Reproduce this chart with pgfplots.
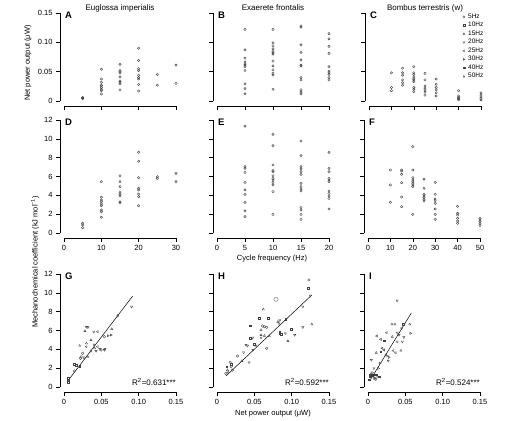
\documentclass[border=0pt]{standalone}
\usepackage{fontspec}
\setmainfont{Liberation Sans}
\usepackage{pgfplots}
\pgfplotsset{compat=1.18}
\definecolor{mk}{gray}{0.25}
\pgfplotsset{
 panel/.style={scale only axis, width=112pt, axis lines=left,
   axis line style={-, line width=0.55pt, black},
   tick align=outside, major tick length=4pt, tick style={black, line width=0.55pt},
   axis x line shift=5pt, axis y line shift=4pt,
   tick label style={font=\fontsize{7.5}{8}\selectfont, black},
   clip=false, scaled ticks=false},
 r1/.style={panel, height=88pt, ymin=0, ymax=0.15, ytick={0,0.05,0.1,0.15}, xticklabels={,,}},
 r2/.style={panel, height=113pt, ymin=0, ymax=12, ytick={0,2,...,12}},
 r3/.style={panel, height=113pt, ymin=0, ymax=12, ytick={0,2,...,12}, xmin=0, xmax=0.15,
   xtick={0,0.05,0.1,0.15}, xticklabels={0,0.05,0.10,0.15}},
 noy/.style={yticklabels={,,}},
 yl12/.style={yticklabels={0,2,4,6,8,10,12}},
 pt/.style={only marks, mark=o, mark size=1.2pt, mark options={mk, line width=0.4pt}},
 mb/.style={only marks, mark size=1.3pt, mark options={mk, line width=0.35pt}},
 m5/.style={mb, mark=o},
 m10/.style={mb, mark=square, mark size=0.95pt},
 m15/.style={mb, mark=triangle},
 m20/.style={mb, mark=triangle, mark options={mk, line width=0.35pt, rotate=180}},
 m25/.style={mb, mark=triangle, mark options={mk, line width=0.35pt, rotate=90}},
 m30/.style={mb, mark=triangle, mark options={mk, line width=0.35pt, rotate=-90}},
 m40/.style={mb, mark=square, mark size=0.95pt, mark options={mk, line width=0.35pt, yscale=0.45, xscale=1.3}},
 m50/.style={mb, mark=diamond},
 fit/.style={black, line width=0.5pt, no marks},
 leglook/.style={
  legend style={at={(rel axis cs:0.835,1.0)}, anchor=north west, draw=none, fill=none, inner sep=0pt,
    row sep=1.3pt, column sep=2.5pt, font=\fontsize{6.5}{7}\selectfont, nodes={inner sep=0.6pt}},
  legend cell align=left},
}
\newcommand{\plet}[1]{\node[anchor=north west, inner sep=0pt, font=\bfseries\fontsize{9.5}{10}\selectfont, xshift=1pt, yshift=1.5pt] at (rel axis cs:0,1) {#1};}
\newcommand{\ptitle}[1]{\node[anchor=base, inner sep=0pt, font=\fontsize{8}{9}\selectfont, yshift=2.5pt] at (rel axis cs:0.5,1) {#1};}
\newcommand{\rsq}[1]{\node[anchor=base east, inner sep=0pt, font=\fontsize{8}{9}\selectfont, yshift=1.5pt] at (rel axis cs:1,0) {R\textsuperscript{2}=#1***};}
\begin{document}
\begin{tikzpicture}
\useasboundingbox (0,0) rectangle (513pt,420pt);
% ---------------- Row 1 ----------------
\begin{axis}[r1, at={(64pt,319pt)}, anchor=south west, xmin=0, xmax=30, xtick={0,10,20,30},
  yticklabels={0,0.05,0.10,0.15}]
\addplot[pt] table {
x y
5 0.004
5 0.005
5 0.006
10 0.054
10 0.0375
10 0.032
10 0.027
10 0.026
10 0.023
10 0.020
10 0.0175
10 0.012
15 0.0626
15 0.052
15 0.050
15 0.048
15 0.041
15 0.034
15 0.032
15 0.029
15 0.019
20 0.090
20 0.069
20 0.055
20 0.052
20 0.044
20 0.040
20 0.0375
20 0.028
20 0.017
25 0.045
25 0.027
30 0.061
30 0.030
};
\plet{A}\ptitle{Euglossa imperialis}
\end{axis}
\begin{axis}[r1, at={(217pt,319pt)}, anchor=south west, xmin=0, xmax=20, xtick={0,5,...,20}, noy]
\addplot[pt] table {
x y
5 0.122
5 0.087
5 0.073
5 0.0665
5 0.063
5 0.061
5 0.0585
5 0.052
5 0.029
5 0.021
5 0.012
10 0.122
10 0.099
10 0.094
10 0.089
10 0.084
10 0.082
10 0.080
10 0.068
10 0.060
10 0.053
10 0.047
10 0.044
10 0.020
15 0.128
15 0.126
15 0.0955
15 0.083
15 0.070
15 0.061
15 0.060
15 0.040
15 0.036
15 0.019
15 0.015
15 0.012
20 0.115
20 0.106
20 0.093
20 0.081
20 0.0585
20 0.051
20 0.048
20 0.0455
20 0.040
20 0.036
};
\plet{B}\ptitle{Exaerete frontalis}
\end{axis}
\begin{axis}[r1, at={(369pt,319pt)}, anchor=south west, xmin=0, xmax=50, xtick={0,10,...,50}, noy, leglook]
\addplot[pt, forget plot] table {
x y
10 0.048
10 0.023
10 0.0175
15 0.056
15 0.048
15 0.044
15 0.036
15 0.031
15 0.027
20 0.0585
20 0.048
20 0.045
20 0.041
20 0.038
20 0.036
20 0.033
20 0.023
20 0.020
20 0.016
25 0.047
25 0.036
25 0.0256
25 0.022
25 0.019
25 0.015
25 0.010
30 0.0375
30 0.0285
30 0.023
30 0.019
30 0.014
30 0.0085
40 0.0175
40 0.0085
40 0.006
40 0.004
40 0.002
50 0.014
50 0.010
50 0.007
50 0.0045
50 0.002
};
\addlegendimage{m5, mark size=1.1pt}\addlegendentry{5Hz}
\addlegendimage{m10, mark size=0.9pt}\addlegendentry{10Hz}
\addlegendimage{m15, mark size=1.1pt}\addlegendentry{15Hz}
\addlegendimage{m20, mark size=1.1pt}\addlegendentry{20Hz}
\addlegendimage{m25, mark size=1.1pt}\addlegendentry{25Hz}
\addlegendimage{m30, mark size=1.1pt}\addlegendentry{30Hz}
\addlegendimage{m40, mark size=0.9pt}\addlegendentry{40Hz}
\addlegendimage{m50, mark size=1.1pt}\addlegendentry{50Hz}
\plet{C}\ptitle{Bombus terrestris (w)}
\end{axis}
% ---------------- Row 2 ----------------
\begin{axis}[r2, at={(64pt,187pt)}, anchor=south west, xmin=0, xmax=30, xtick={0,10,20,30},
  xticklabels={0,10,20,30}, yl12]
\addplot[pt] table {
x y
5 1.03
5 0.85
5 0.56
10 5.45
10 3.79
10 3.5
10 3.32
10 3.08
10 2.9
10 2.44
10 2.26
10 1.67
15 6.08
15 5.45
15 4.92
15 4.32
15 4.11
15 3.93
15 3.32
15 3.22
20 8.57
20 7.61
20 5.87
20 4.75
20 4.57
20 4.14
20 3.86
20 2.9
25 5.98
25 5.8
30 6.34
30 5.45
};
\plet{D}
\end{axis}
\begin{axis}[r2, at={(217pt,187pt)}, anchor=south west, xmin=0, xmax=20, xtick={0,5,...,20},
  xticklabels={0,5,10,15,20}, noy]
\addplot[pt] table {
x y
5 11.36
5 7.04
5 6.87
5 6.44
5 5.38
5 4.57
5 4.11
5 3.26
5 2.34
5 1.73
10 10.48
10 9.27
10 7.22
10 6.62
10 6.51
10 6.08
10 5.8
10 5.63
10 5.38
10 5.10
10 4.39
10 1.98
15 9.77
15 8.21
15 7.04
15 6.8
15 6.51
15 6.23
15 5.28
15 4.92
15 4.67
15 4.46
15 2.69
15 2.44
15 1.98
15 1.45
20 8.57
20 6.87
20 6.51
20 5.8
20 5.63
20 5.45
20 4.46
20 4.21
20 3.93
20 3.68
20 2.55
};
\plet{E}
\end{axis}
\begin{axis}[r2, at={(368pt,187pt)}, anchor=south west, xmin=0, xmax=50, xtick={0,10,...,50},
  xticklabels={0,10,20,30,40,50}, noy]
\addplot[pt] table {
x y
10 6.69
10 5.1
10 3.26
15 6.69
15 6.58
15 6.23
15 5.34
15 3.82
15 2.79
20 9.17
20 6.69
20 5.87
20 5.63
20 5.45
20 5.28
20 5.10
20 4.92
20 1.98
25 5.73
25 4.75
25 4.11
25 3.93
25 3.75
25 3.58
25 3.40
30 5.38
30 4.11
30 3.61
30 3.43
30 3.15
30 2.55
30 1.98
30 1.45
40 2.83
40 2.09
40 1.91
40 1.56
40 1.27
40 1.03
50 1.56
50 1.38
50 1.2
50 0.99
50 0.78
};
\plet{F}
\end{axis}
% ---------------- Row 3 ----------------
\begin{axis}[r3, at={(64pt,33pt)}, anchor=south west, yl12]
\addplot[fit] coordinates {(0.004,0.53) (0.092,9.66)};
\addplot[m5] coordinates {(0.014,1.7) (0.022,3.05) (0.025,3.58) (0.023,3.2) (0.027,3.1) (0.054,5.34)};
\addplot[m10] coordinates {(0.005,0.74) (0.005,0.55) (0.014,2.44) (0.021,2.23) (0.016,2.34) (0.005,0.9)};
\addplot[m15] coordinates {(0.021,4.39) (0.028,5.95) (0.036,4.99) (0.064,6.16) (0.030,4.64) (0.041,4.11) (0.032,3.2)};
\addplot[m20] coordinates {(0.030,6.37) (0.040,5.87) (0.054,3.93) (0.055,4.03) (0.0905,8.53) (0.032,6.34) (0.043,3.82) (0.048,4.03)};
\addplot[m25] coordinates {(0.045,5.87) (0.030,4.28) (0.045,4.28)};
\addplot[m30] coordinates {(0.059,5.45) (0.063,5.52)};
\addplot[m50] coordinates {(0.072,7.57) (0.050,3.93) (0.040,4.46) (0.036,3.82)};
\plet{G}\rsq{0.631}
\end{axis}
\begin{axis}[r3, at={(217pt,33pt)}, anchor=south west, noy]
\addplot[fit] coordinates {(0.012,1.17) (0.127,9.77)};
\addplot[m5] coordinates {(0.123,11.36) (0.061,6.48) (0.0635,6.4) (0.0666,6.34) (0.0666,4.11) (0.0275,3.29) (0.0207,1.8) (0.0176,2.62) (0.019,2.16) (0.0118,1.45)};
\addplot[m5, mark size=2.1pt, mark options={gray, line width=0.5pt}] coordinates {(0.079,9.31)};
\addplot[m10] coordinates {(0.122,10.48) (0.057,7.3) (0.068,7.3) (0.0446,6.51) (0.092,7.22) (0.0996,6.16) (0.0446,5.17) (0.084,5.7) (0.086,5.6) (0.084,5.87) (0.0185,2.41) (0.013,2.16) (0.05,4.57)};
\addplot[m15] coordinates {(0.062,8.25) (0.127,6.66) (0.095,4.89) (0.059,5.52) (0.0635,5.45) (0.052,4.39) (0.0334,2.76) (0.014,1.8) (0.0149,1.56) (0.059,6.05) (0.07,5.41) (0.0815,6.93)};
\addplot[m20] coordinates {(0.125,9.7) (0.115,8.53) (0.0915,5.7) (0.115,6.34) (0.104,5.52) (0.0477,5.24) (0.0388,4.46) (0.041,4.39) (0.0356,3.68) (0.043,2.62) (0.084,7.1) (0.083,6.76) (0.059,5.24) (0.048,3.93)};
\plet{H}\rsq{0.592}
\end{axis}
\begin{axis}[r3, at={(368pt,33pt)}, anchor=south west, noy]
\addplot[fit] coordinates {(0.003,0.74) (0.058,7.86)};
\addplot[m10] coordinates {(0.047,6.66) (0.0214,4.92) (0.017,3.75)};
\addplot[m15] coordinates {(0.032,6.66) (0.036,6.66) (0.056,6.66) (0.0325,5.34) (0.011,3.64) (0.044,3.86)};
\addplot[m20] coordinates {(0.039,9.17) (0.046,4.81) (0.039,4.81) (0.045,6.23) (0.039,5.77) (0.0415,5.52) (0.048,5.28) (0.027,2.79) (0.0045,2.87) (0.008,1.98)};
\addplot[m25] coordinates {(0.0117,5.41) (0.025,5.77) (0.017,5.06) (0.019,4.11) (0.0214,3.93) (0.034,3.86) (0.037,3.64)};
\addplot[m30] coordinates {(0.057,5.7) (0.0237,3.4) (0.026,3.29) (0.028,3.15) (0.0157,2.52) (0.0138,1.98) (0.0058,1.52) (0.0125,1.03)};
\addplot[m40] coordinates {(0.0036,1.35) (0.0058,1.17) (0.0027,1.09) (0.0103,1.27) (0.0147,1.09) (0.0013,0.74)};
\addplot[m50] coordinates {(0.008,0.92) (0.0103,0.82) (0.006,1.2) (0.004,1.4) (0.009,0.95)};
\plet{I}\rsq{0.524}
\end{axis}
% ---------------- shared labels ----------------
\node[rotate=90, font=\fontsize{7.5}{8}\selectfont] at (28pt,357pt) {Net power output (μW)};
\node[rotate=90, font=\fontsize{7.5}{8}\selectfont] at (35pt,158pt) {Mechanochemical coefficient (kJ mol\textsuperscript{−1})};
\node[font=\fontsize{7.5}{8}\selectfont] at (272pt,161.5pt) {Cycle frequency (Hz)};
\node[font=\fontsize{7.5}{8}\selectfont] at (273pt,6.5pt) {Net power output (μW)};
\end{tikzpicture}
\end{document}
